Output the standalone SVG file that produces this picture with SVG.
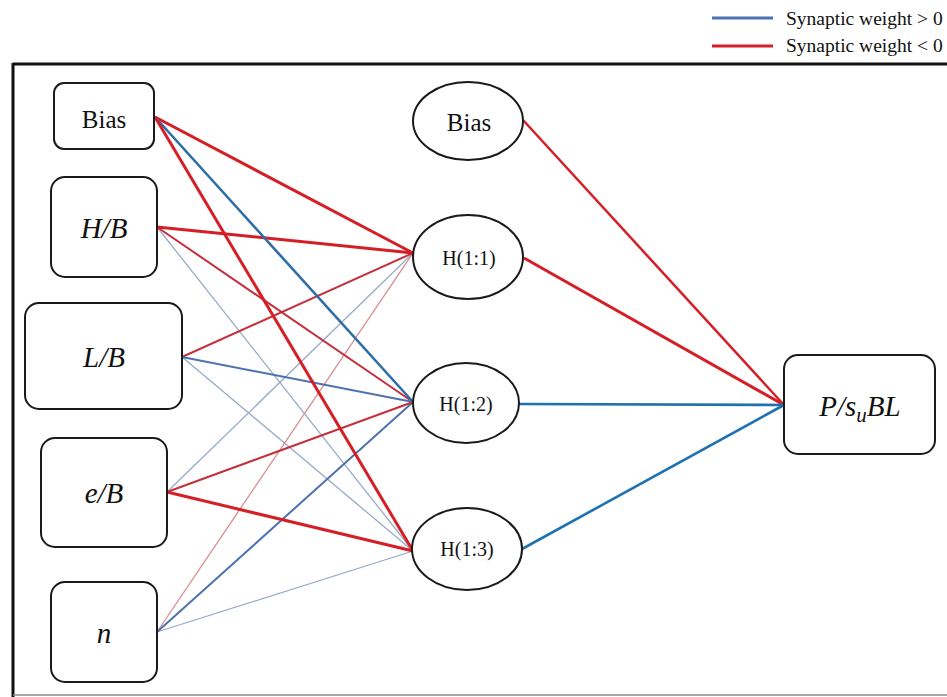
<svg xmlns="http://www.w3.org/2000/svg" width="947" height="697" viewBox="0 0 947 697">
<style>
.box{fill:#fff;stroke:#1a1a1a;stroke-width:2}
.t{font-family:'Liberation Serif','DejaVu Serif','Times New Roman',serif;fill:#111;text-anchor:middle}
.lg{font-family:'Liberation Serif','DejaVu Serif','Times New Roman',serif;fill:#111;font-size:19.5px}
.it{font-style:italic}
.r3{stroke:#d41f27;stroke-width:3;fill:none}
.r2{stroke:#c4303c;stroke-width:2;fill:none}
.r1{stroke:#d88c90;stroke-width:1.3;fill:none}
.b3{stroke:#2e6ea6;stroke-width:2.6;fill:none}
.b2{stroke:#4d72ae;stroke-width:2;fill:none}
.b1{stroke:#98aac8;stroke-width:1.3;fill:none}
.bo{stroke:#1f72b0;stroke-width:2.6;fill:none}
</style>
<rect width="947" height="697" fill="#fff"/>
<g id="frame">
<line x1="13" y1="64" x2="947" y2="64" stroke="#111" stroke-width="3"/>
<line x1="13" y1="63" x2="13" y2="697" stroke="#111" stroke-width="3"/>
<line x1="13" y1="695" x2="947" y2="695" stroke="#888" stroke-width="1.5"/>
</g>
<g id="legend">
<line x1="712" y1="18" x2="773" y2="18" stroke="#4a72b0" stroke-width="3"/>
<line x1="712" y1="46" x2="773" y2="46" stroke="#d41f27" stroke-width="3"/>
<text class="lg" x="786" y="25">Synaptic weight &gt; 0</text>
<text class="lg" x="786" y="52">Synaptic weight &lt; 0</text>
</g>
<g id="connectors">
<line class="b1" x1="157" y1="227" x2="413" y2="551"/>
<line class="b1" x1="182" y1="357" x2="413" y2="551"/>
<line class="b1" x1="167" y1="492" x2="413" y2="253"/>
<line class="b1" x1="157" y1="632" x2="413" y2="551"/>
<line class="r1" x1="157" y1="632" x2="413" y2="253"/>
<line class="b2" x1="157" y1="632" x2="413" y2="402"/>
<line class="r2" x1="157" y1="227" x2="413" y2="402"/>
<line class="r2" x1="182" y1="357" x2="413" y2="253"/>
<line class="b2" x1="182" y1="357" x2="413" y2="402"/>
<line class="r2" x1="167" y1="492" x2="413" y2="402"/>
<line class="r3" x1="167" y1="492" x2="413" y2="551"/>
<line class="r3" x1="157" y1="227" x2="413" y2="253"/>
<line class="r3" x1="155" y1="117" x2="413" y2="253"/>
<line class="b3" x1="155" y1="117" x2="413" y2="402"/>
<line class="r3" x1="155" y1="117" x2="413" y2="551"/>
<line class="r3" style="stroke-width:2.5" x1="523" y1="120" x2="784" y2="405"/>
<line class="r3" x1="524" y1="258" x2="784" y2="405"/>
<line class="bo" x1="519" y1="404" x2="784" y2="405"/>
<line class="bo" x1="522" y1="549" x2="784" y2="405"/>
</g>
<g id="in-bias"><rect class="box" x="54" y="83" width="100" height="66" rx="10"/><text class="t" x="104" y="128" font-size="25">Bias</text></g>
<g id="in-hb"><rect class="box" x="51" y="177" width="106" height="100" rx="14"/><text class="t it" x="104" y="238" font-size="29">H/B</text></g>
<g id="in-lb"><rect class="box" x="25" y="303" width="157" height="106" rx="14"/><text class="t it" x="104" y="367" font-size="29">L/B</text></g>
<g id="in-eb"><rect class="box" x="41" y="438" width="126" height="109" rx="14"/><text class="t it" x="104" y="503" font-size="29">e/B</text></g>
<g id="in-n"><rect class="box" x="51" y="582" width="106" height="100" rx="14"/><text class="t it" x="104" y="643" font-size="29">n</text></g>
<g id="h-bias"><ellipse class="box" cx="468" cy="121" rx="55" ry="39"/><text class="t" x="469" y="131" font-size="25">Bias</text></g>
<g id="h11"><ellipse class="box" cx="468" cy="257" rx="55" ry="42"/><text class="t" x="469" y="265" font-size="20">H(1:1)</text></g>
<g id="h12"><ellipse class="box" cx="466" cy="403" rx="53" ry="40"/><text class="t" x="466" y="411" font-size="20">H(1:2)</text></g>
<g id="h13"><ellipse class="box" cx="467" cy="549" rx="55" ry="41"/><text class="t" x="467" y="556" font-size="20">H(1:3)</text></g>
<g id="out"><rect class="box" x="784" y="355" width="151" height="99" rx="14"/><text class="t it" x="860" y="416" font-size="29">P/s<tspan font-size="21" dy="6">u</tspan><tspan dy="-6">BL</tspan></text></g>
</svg>
